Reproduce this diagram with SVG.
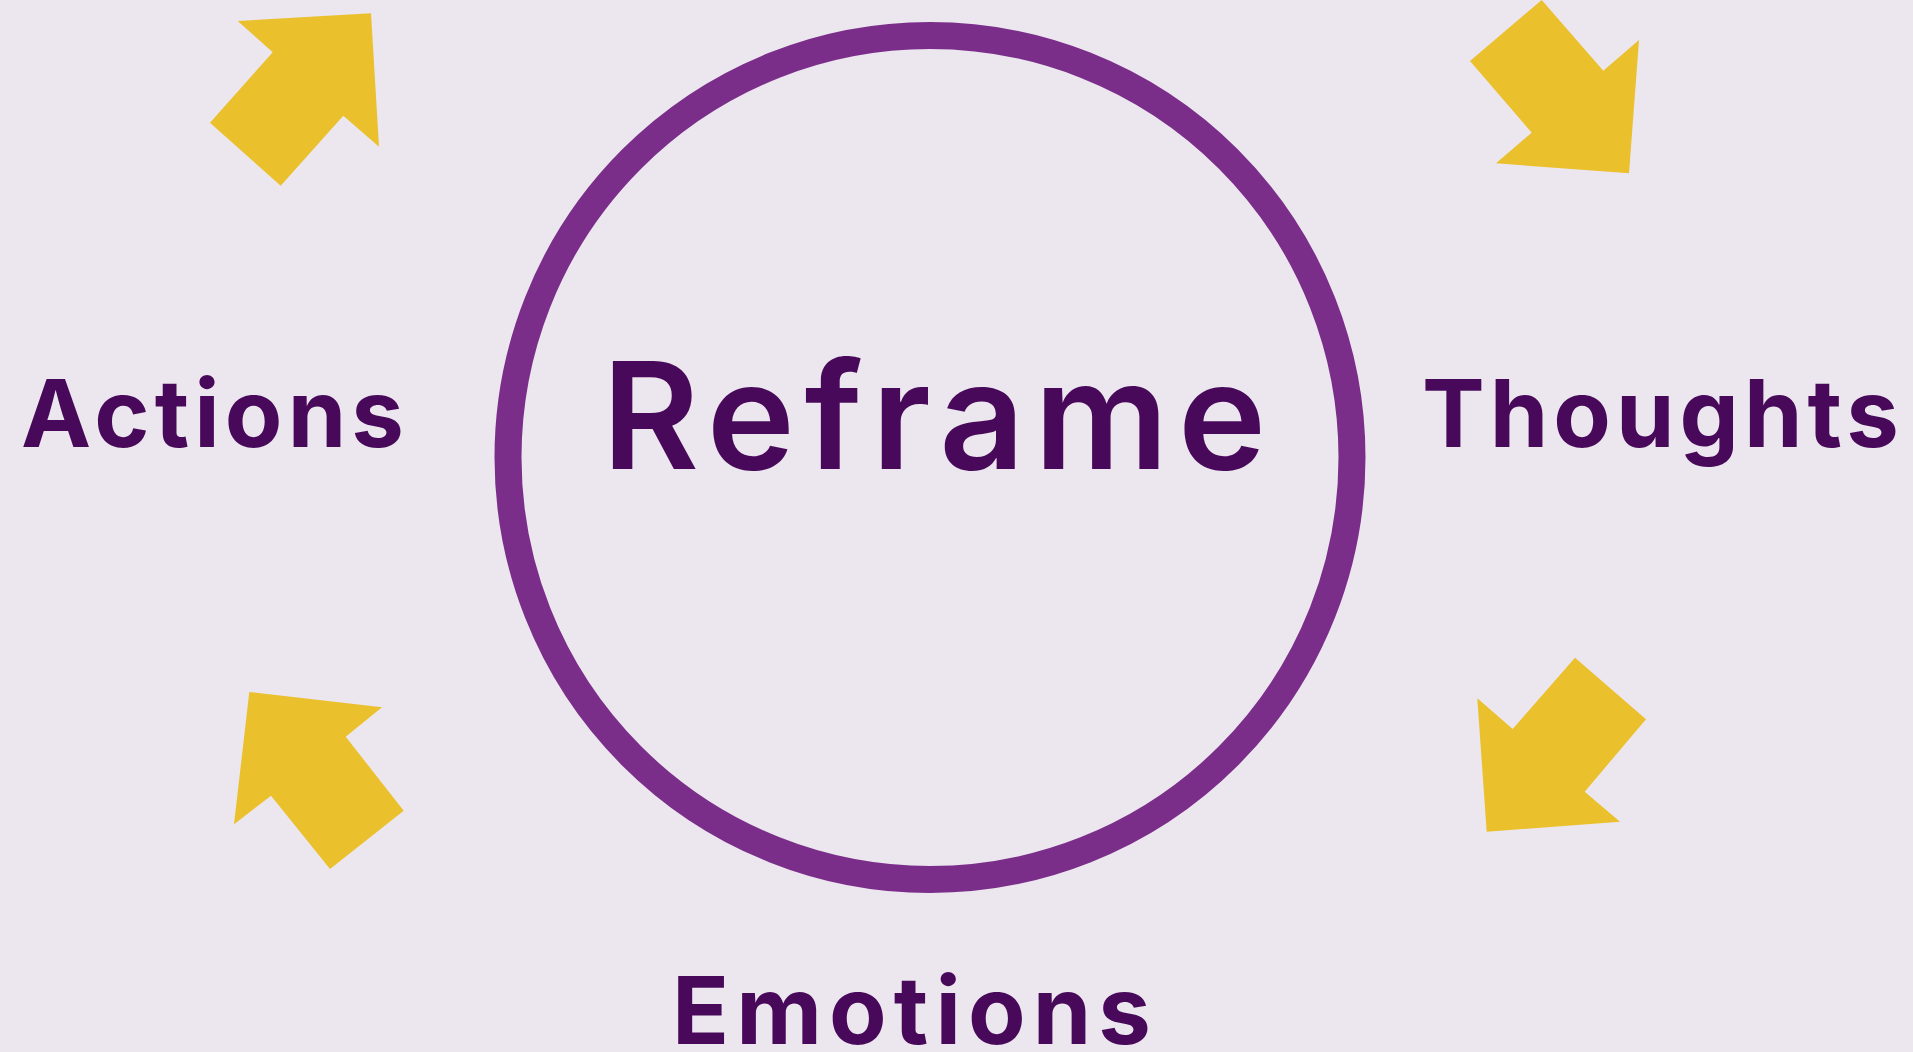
<svg xmlns="http://www.w3.org/2000/svg" width="1913" height="1052" viewBox="0 0 1913 1052">
<style>
.bg{fill:#ECE6EE}
.ring{fill:none;stroke:#7A2E8A;stroke-width:27}
.arrow{fill:#EAC02C}
.label{font-family:Inter,"Noto Sans","Liberation Sans",sans-serif;font-weight:700;font-size:94px;fill:#48095A}
.title{font-family:Inter,"Noto Sans","Liberation Sans",sans-serif;font-weight:600;font-size:149px;fill:#48095A}
</style>
<rect class="bg" x="0" y="0" width="1913" height="1052"/>
<g id="connectors">
<polygon class="arrow" points="237.7,21 371,13.3 379,146.7 343.3,115.7 280.7,185.7 210,122.7 272.7,52.3"/>
<polygon class="arrow" points="1541.7,0 1603.3,70.7 1639,40 1629,173.3 1496,163.3 1531.7,132.7 1470,61"/>
<polygon class="arrow" points="249.3,692 382,707.3 345.7,736.7 403.7,810.7 330,869 271,795.7 234,824.3"/>
<polygon class="arrow" points="1575,657.7 1646,719.3 1584.7,791.7 1620,821.7 1486.7,831.7 1477.3,698.3 1512.7,729"/>
</g>
<g id="reframe">
<circle class="ring" cx="930" cy="457.5" r="422"/>
<text class="title" x="602" y="469.3" textLength="664" lengthAdjust="spacing">Reframe</text>
</g>
<g id="actions">
<text class="label" x="21" y="446.7" textLength="383" lengthAdjust="spacing">Actions</text>
</g>
<g id="thoughts">
<text class="label" x="1422" y="446.7" textLength="477" lengthAdjust="spacing">Thoughts</text>
</g>
<g id="emotions">
<text class="label" x="672" y="1044" font-size="96" textLength="479" lengthAdjust="spacing">Emotions</text>
</g>
</svg>
